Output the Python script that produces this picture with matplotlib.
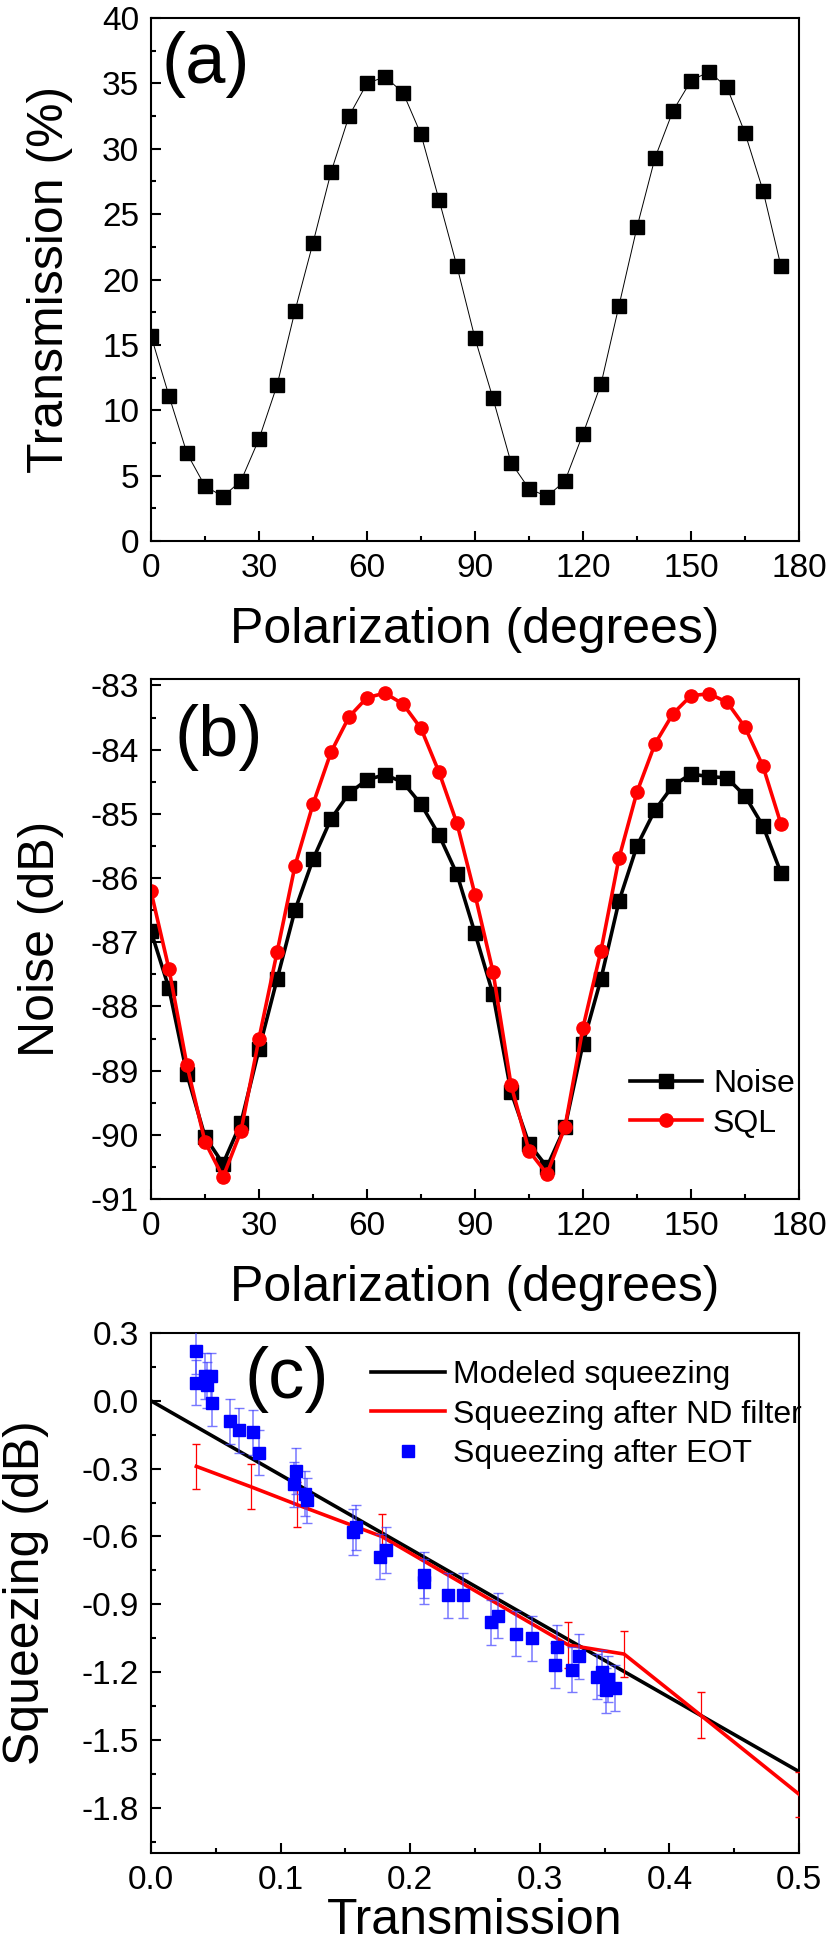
import numpy as np
import matplotlib
matplotlib.use('Agg')
import matplotlib.pyplot as plt
from matplotlib.ticker import MultipleLocator
from matplotlib.lines import Line2D

plt.rcParams['font.family'] = ['Liberation Sans', 'DejaVu Sans']
plt.rcParams['axes.unicode_minus'] = False

# (a) transmission vs polarization
pol = np.arange(0, 180, 5)
trans = [15.7, 11.1, 6.7, 4.2, 3.4, 4.6, 7.8, 11.9, 17.6, 22.8, 28.2, 32.5,
         35.0, 35.5, 34.3, 31.1, 26.1, 21.0, 15.5, 10.9, 6.0, 4.0, 3.4, 4.6,
         8.2, 12.0, 18.0, 24.0, 29.3, 32.9, 35.2, 35.9, 34.7, 31.2, 26.8, 21.0]

# (b) noise and SQL vs polarization
noise = [-86.83, -87.72, -89.06, -90.03, -90.45, -89.81, -88.67, -87.58, -86.50,
         -85.71, -85.08, -84.68, -84.47, -84.39, -84.51, -84.85, -85.33, -85.94,
         -86.86, -87.81, -89.33, -90.14, -90.50, -89.88, -88.58, -87.57, -86.36,
         -85.50, -84.94, -84.56, -84.38, -84.42, -84.44, -84.72, -85.19, -85.92]
sql = [-86.21, -87.42, -88.92, -90.11, -90.66, -89.94, -88.50, -87.16, -85.81,
       -84.85, -84.04, -83.49, -83.19, -83.12, -83.29, -83.67, -84.35, -85.15,
       -86.26, -87.46, -89.22, -90.25, -90.61, -89.88, -88.33, -87.13, -85.69,
       -84.66, -83.91, -83.44, -83.16, -83.13, -83.26, -83.65, -84.26, -85.16]
noise_err = 0.07

# (c) squeezing vs transmission
model_T = [0.0, 0.5]
model_sq = [0.0, -1.64]
nd_T = [0.035, 0.077, 0.113, 0.178, 0.322, 0.365, 0.424, 0.5]
nd_sq = [-0.29, -0.38, -0.46, -0.60, -1.08, -1.12, -1.39, -1.74]
nd_err = [0.1, 0.1, 0.1, 0.1, 0.1, 0.1, 0.1, 0.1]
eot_T = [0.035, 0.035, 0.042, 0.043, 0.046, 0.047, 0.061, 0.068, 0.079, 0.083,
         0.110, 0.112, 0.119, 0.120, 0.156, 0.158, 0.177, 0.181, 0.211, 0.211,
         0.229, 0.241, 0.262, 0.268, 0.282, 0.294, 0.313, 0.312, 0.325, 0.330,
         0.344, 0.348, 0.351, 0.353, 0.358]
eot_sq = [0.22, 0.08, 0.11, 0.07, 0.11, -0.01, -0.09, -0.13, -0.14, -0.23,
          -0.37, -0.31, -0.41, -0.44, -0.58, -0.56, -0.69, -0.66, -0.77, -0.80,
          -0.86, -0.86, -0.98, -0.95, -1.03, -1.05, -1.09, -1.17, -1.19, -1.13,
          -1.22, -1.20, -1.28, -1.23, -1.27]
eot_err = 0.1

fig = plt.figure(figsize=(8.3, 19.53), dpi=100)
W, H = 830.0, 1953.0
left, right = 151, 799

def make_ax(top, bottom):
    return fig.add_axes([left / W, 1 - bottom / H, (right - left) / W, (bottom - top) / H])

def style(ax, xmaj, xmin, ymaj, ymin):
    ax.xaxis.set_major_locator(MultipleLocator(xmaj))
    ax.xaxis.set_minor_locator(MultipleLocator(xmin))
    ax.yaxis.set_major_locator(MultipleLocator(ymaj))
    ax.yaxis.set_minor_locator(MultipleLocator(ymin))
    ax.tick_params(which='both', direction='in', top=False, right=False,
                   width=1.5, labelsize=24, pad=8.5)
    ax.tick_params(which='major', length=7)
    ax.tick_params(which='minor', length=3.6)
    for s in ax.spines.values():
        s.set_linewidth(1.5)

# ---- (a)
ax1 = make_ax(18, 541)
ax1.plot(pol, trans, '-', color='black', lw=0.7, marker='s', ms=9.5,
         markerfacecolor='black', markeredgecolor='black')
ax1.set_xlim(0, 180)
ax1.set_ylim(0, 40)
style(ax1, 30, 15, 5, 2.5)
ax1.set_xlabel('Polarization (degrees)', fontsize=36)
ax1.set_ylabel('Transmission (%)', fontsize=36)
ax1.xaxis.set_label_coords(0.5, -0.126)
ax1.yaxis.set_label_coords(-0.12, 0.5)
ax1.text(0.085, 0.912, '(a)', transform=ax1.transAxes, fontsize=52,
         ha='center', va='center')

# ---- (b)
ax2 = make_ax(679, 1199)
ax2.errorbar(pol, noise, yerr=noise_err, color='black', lw=2.6, marker='s', ms=9.5,
             capsize=3, elinewidth=1, label='Noise')
ax2.errorbar(pol, sql, yerr=noise_err, color='red', lw=2.6, marker='o', ms=9.5,
             capsize=3, elinewidth=1, label='SQL')
ax2.set_xlim(0, 180)
ax2.set_ylim(-91, -82.9)
style(ax2, 30, 15, 1, 0.5)
ax2.set_xlabel('Polarization (degrees)', fontsize=36)
ax2.set_ylabel('Noise (dB)', fontsize=36)
ax2.xaxis.set_label_coords(0.5, -0.127)
ax2.yaxis.set_label_coords(-0.135, 0.5)
ax2.text(0.105, 0.887, '(b)', transform=ax2.transAxes, fontsize=52,
         ha='center', va='center')
hb = [Line2D([], [], color='black', lw=2.6, marker='s', ms=9.5),
      Line2D([], [], color='red', lw=2.6, marker='o', ms=9.5)]
ax2.legend(hb, ['Noise', 'SQL'], loc='upper left', bbox_to_anchor=(0.739, 0.25),
           frameon=False, fontsize=23, handlelength=2.25, handletextpad=0.35,
           labelspacing=0.3, borderpad=0, borderaxespad=0)

# ---- (c)
ax3 = make_ax(1333, 1853)
ax3.plot(model_T, model_sq, color='black', lw=2.6, zorder=2)
ax3.errorbar(nd_T, nd_sq, yerr=nd_err, color='red', lw=2.6, ecolor='red',
             elinewidth=0.9, capsize=3, zorder=3)
ax3.errorbar(eot_T, eot_sq, yerr=eot_err, fmt='s', color='blue', ms=8.5,
             ecolor=(0.25, 0.25, 1.0, 0.7), elinewidth=1.1, capsize=3.5, zorder=4)
ax3.set_xlim(0, 0.5)
ax3.set_ylim(-2.0, 0.3)
style(ax3, 0.1, 0.05, 0.3, 0.15)
ax3.xaxis.set_major_formatter(plt.FuncFormatter(lambda v, p: '%.1f' % v))
ax3.yaxis.set_major_formatter(plt.FuncFormatter(lambda v, p: '%.1f' % v))
ax3.set_xlabel('Transmission', fontsize=36)
ax3.set_ylabel('Squeezing (dB)', fontsize=36)
ax3.xaxis.set_label_coords(0.5, -0.086)
ax3.yaxis.set_label_coords(-0.158, 0.5)
ax3.text(0.21, 0.910, '(c)', transform=ax3.transAxes, fontsize=52,
         ha='center', va='center')
hc = [Line2D([], [], color='black', lw=2.6),
      Line2D([], [], color='red', lw=2.6),
      Line2D([], [], color='blue', ls='none', marker='s', ms=8.5)]
ax3.legend(hc, ['Modeled squeezing', 'Squeezing after ND filter', 'Squeezing after EOT'],
           loc='upper left', bbox_to_anchor=(0.34, 0.948), frameon=False, fontsize=23,
           handlelength=2.3, handletextpad=0.25, labelspacing=0.3,
           borderpad=0, borderaxespad=0)

fig.savefig('out.png', dpi=100)
